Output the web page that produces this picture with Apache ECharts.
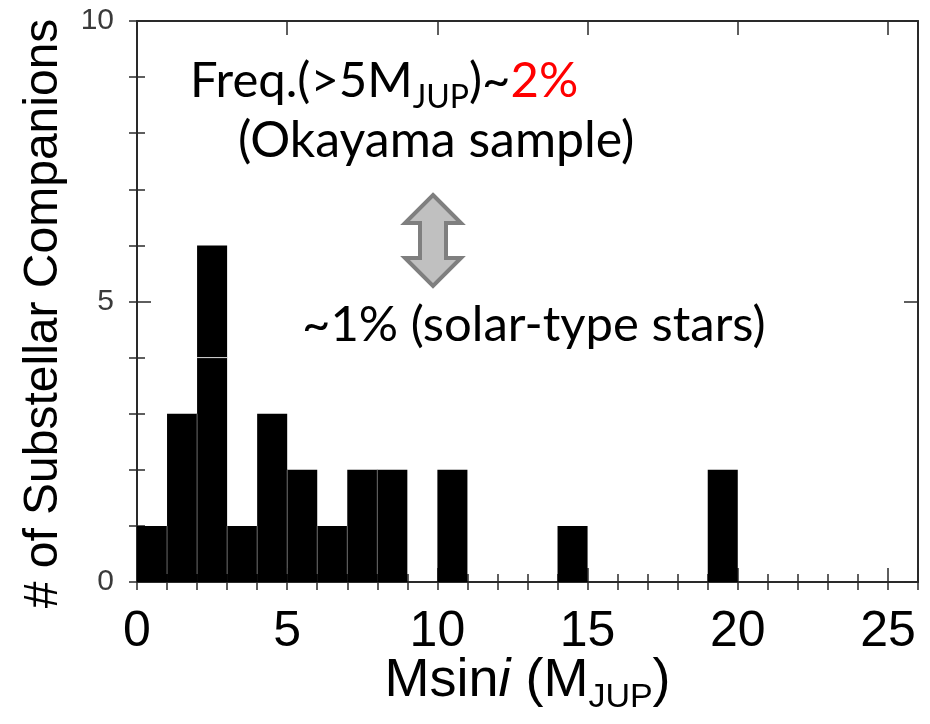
<!DOCTYPE html>
<html>
<head>
<meta charset="utf-8">
<script src="https://cdn.jsdelivr.net/npm/echarts@6/dist/echarts.min.js"></script>
<style>
  html, body { margin: 0; padding: 0; background: #ffffff; }
  #chart { width: 930px; height: 724px; }
</style>
</head>
<body>
<div id="chart"></div>
<script>
// Histogram of companion minimum masses, 1 M_JUP bins
const binStarts = [0, 1, 2, 3, 4, 5, 6, 7, 8, 9, 10, 11, 12, 13, 14, 15, 16, 17, 18, 19, 20, 21, 22, 23, 24, 25];
const counts    = [1, 3, 6, 1, 3, 2, 1, 2, 2, 0, 2, 0, 0, 0, 1, 0, 0, 0, 0, 2, 0, 0, 0, 0, 0, 0];
// thin white break inside a bin: [bin start, count level]
const segmentBreaks = [[2, 4]];
const xTickLabels = ['0', '5', '10', '15', '20', '25'];
const yTickLabels = ['0', '5', '10'];
const xRange = [0, 26];
const yRange = [0, 10];

const frameColor = '#2a2a2a';
const sansFont = '"Liberation Sans", Arial, sans-serif';
const noteFont = 'Lato, "Noto Sans", sans-serif';

function majorAxis(pos, range, labels, labelStyle) {
  return {
    type: 'value', position: pos, min: range[0], max: range[1], interval: 5,
    axisLine: { show: true, onZero: false, lineStyle: { color: frameColor, width: 2 } },
    axisTick: { show: true, inside: true, length: 14, lineStyle: { color: frameColor, width: 1.5 } },
    axisLabel: labelStyle ? Object.assign({
      formatter: v => (labels.indexOf(String(v)) >= 0 ? String(v) : '')
    }, labelStyle) : { show: false },
    splitLine: { show: false }
  };
}
function minorAxis(pos, range) {
  return {
    type: 'value', position: pos, min: range[0], max: range[1], interval: 1,
    axisLine: { show: false },
    axisTick: { show: true, inside: true, length: 8, lineStyle: { color: frameColor, width: 1.5 } },
    axisLabel: { show: false },
    splitLine: { show: false }
  };
}

const xMain = majorAxis('bottom', xRange, xTickLabels, {
  fontSize: 50, fontFamily: sansFont, color: '#000', margin: 25
});
xMain.name = '{n|Msin}{it|i}{n| (M}{sub|JUP}{n|)}';
xMain.nameLocation = 'middle';
xMain.nameGap = 63;
xMain.nameMoveOverlap = false;
xMain.nameTextStyle = {
  rich: {
    n: { fontSize: 54, fontFamily: sansFont, color: '#000', lineHeight: 72, verticalAlign: 'middle' },
    it: { fontSize: 54, fontFamily: sansFont, color: '#000', fontStyle: 'italic', lineHeight: 72, verticalAlign: 'middle' },
    sub: { fontSize: 34, fontFamily: sansFont, color: '#000', lineHeight: 34, verticalAlign: 'middle', padding: [34, 0, 0, 0] }
  }
};

const yMain = majorAxis('left', yRange, yTickLabels, {
  fontSize: 30, fontFamily: sansFont, color: '#3a3a3a', margin: 23
});
yMain.name = '# of Substellar Companions';
yMain.nameLocation = 'middle';
yMain.nameGap = 69;
yMain.nameMoveOverlap = false;
yMain.nameTextStyle = { fontSize: 48, fontFamily: sansFont, color: '#000', padding: [0, 24, 0, 0] };

const chart = echarts.init(document.getElementById('chart'), null, { renderer: 'canvas' });

chart.setOption({
  backgroundColor: '#ffffff',
  animation: false,
  grid: { left: 137, right: 12, top: 21, bottom: 142, containLabel: false, outerBoundsMode: 'none' },
  xAxis: [xMain, minorAxis('bottom', xRange), majorAxis('top', xRange), minorAxis('top', xRange)],
  yAxis: [yMain, minorAxis('left', yRange), majorAxis('right', yRange), minorAxis('right', yRange)],
  series: [{
    type: 'custom',
    xAxisIndex: 0,
    yAxisIndex: 0,
    data: binStarts.map((b, i) => [b, counts[i]]),
    renderItem: function (params, api) {
      const x0 = api.value(0);
      const c = api.value(1);
      if (!c) return null;
      const i = params.dataIndex;
      const top = api.coord([x0, c]);
      const base = api.coord([x0 + 1, 0]);
      const children = [{
        type: 'rect',
        shape: { x: top[0], y: top[1], width: base[0] - top[0], height: base[1] - top[1] },
        style: { fill: '#000' }
      }];
      // faint edge where two filled bins meet
      const prev = i > 0 ? counts[i - 1] : 0;
      if (prev > 0) {
        const a = api.coord([x0, 0]);
        const b = api.coord([x0, Math.min(prev, c)]);
        children.push({
          type: 'line',
          shape: { x1: a[0], y1: a[1] - 8, x2: b[0], y2: b[1] },
          style: { stroke: '#666', lineWidth: 1 }
        });
      }
      segmentBreaks.forEach(function (sb) {
        if (sb[0] === x0) {
          const l = api.coord([x0, sb[1]]);
          const r = api.coord([x0 + 1, sb[1]]);
          children.push({
            type: 'line',
            shape: { x1: l[0], y1: l[1], x2: r[0], y2: r[1] },
            style: { stroke: '#ddd', lineWidth: 1 }
          });
        }
      });
      return { type: 'group', children: children };
    }
  }],
  graphic: [
    {
      type: 'text', x: 190, y: 81,
      style: {
        text: '{n|Freq.(>5M}{sub|JUP}{n|)~}{red|2%}',
        verticalAlign: 'middle',
        rich: {
          n: { fontSize: 49, fontFamily: noteFont, fill: '#000', lineHeight: 70, verticalAlign: 'middle' },
          red: { fontSize: 49, fontFamily: noteFont, fill: '#ff0000', lineHeight: 70, verticalAlign: 'middle' },
          sub: { fontSize: 32, fontFamily: noteFont, fill: '#000', lineHeight: 32, verticalAlign: 'middle', padding: [34, 0, 0, 0] }
        }
      }
    },
    {
      type: 'text', x: 238, y: 141,
      style: { text: '(Okayama sample)', fontSize: 50, fontFamily: noteFont, fill: '#000', verticalAlign: 'middle' }
    },
    {
      type: 'text', x: 302, y: 325,
      style: { text: '~1% (solar-type stars)', fontSize: 49, fontFamily: noteFont, fill: '#000', verticalAlign: 'middle' }
    },
    {
      // double-headed arrow between the two rates
      type: 'polygon',
      shape: {
        points: [[433, 195], [461, 223], [446, 223], [446, 258], [461, 258], [433, 286],
                 [405, 258], [420, 258], [420, 223], [405, 223]]
      },
      style: { fill: '#c0c0c0', stroke: '#7f7f7f', lineWidth: 4, lineJoin: 'miter' }
    }
  ]
});
</script>
</body>
</html>
